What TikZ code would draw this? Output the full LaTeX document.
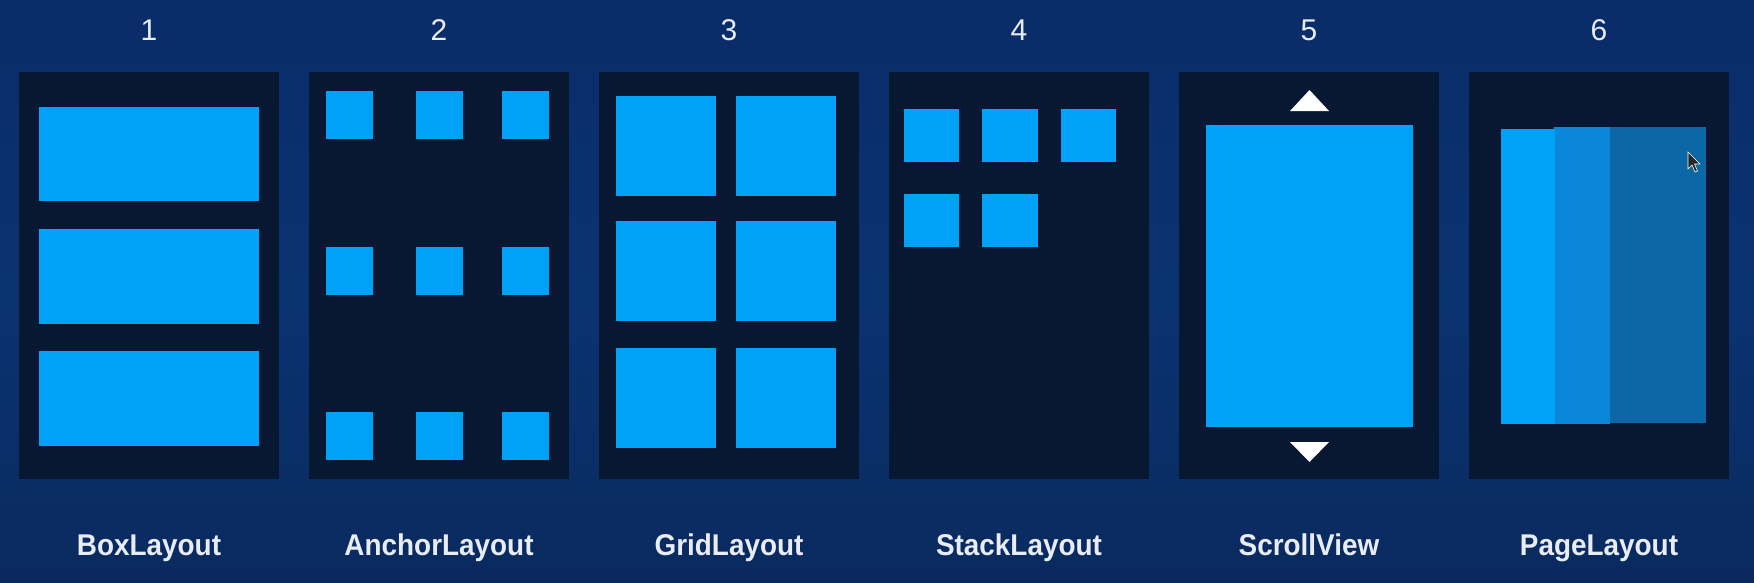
\documentclass[tikz,border=0pt]{standalone}
\usepackage{fontspec}
\setmainfont{Liberation Sans}
\definecolor{bgtop}{HTML}{0A2C68}
\definecolor{bgmid}{HTML}{0A3372}
\definecolor{bgbot}{HTML}{0A2A5E}
\definecolor{panelc}{HTML}{081833}
\definecolor{tilec}{HTML}{00A2F8}
\definecolor{tilemid}{HTML}{0A87D9}
\definecolor{tiledark}{HTML}{0B67A6}
\definecolor{txtc}{HTML}{E8ECF4}
\tikzset{
  panel/.style={fill=panelc},
  tile/.style={fill=tilec},
  arrowtri/.style={fill=white},
  num/.style={text=txtc, anchor=base, inner sep=0pt, font=\fontsize{30}{36}\selectfont},
  lbl/.style={text=txtc, anchor=base, inner sep=0pt, font=\fontsize{30}{36}\selectfont\bfseries},
}
\newcommand{\lbltext}[1]{\scalebox{0.93}[1]{#1}}
\begin{document}
\begin{tikzpicture}[x=1pt,y=-1pt]
\useasboundingbox (0,0) rectangle (1754,582);
% background
\shade[top color=bgtop, bottom color=bgbot, middle color=bgmid] (0,0) rectangle (1754,582);
% panels
\foreach \px in {19,309,599,889,1179,1469}{
  \fill[panel] (\px,72) rectangle ++(260,407);
}
% numbers
\node[num] (n1) at (149,40) {1};
\node[num] (n2) at (439,40) {2};
\node[num] (n3) at (729,40) {3};
\node[num] (n4) at (1019,40) {4};
\node[num] (n5) at (1309,40) {5};
\node[num] (n6) at (1599,40) {6};
% labels
\node[lbl] (l1) at (149,555) {\lbltext{BoxLayout}};
\node[lbl] (l2) at (439,555) {\lbltext{AnchorLayout}};
\node[lbl] (l3) at (729,555) {\lbltext{GridLayout}};
\node[lbl] (l4) at (1019,555) {\lbltext{StackLayout}};
\node[lbl] (l5) at (1309,555) {\lbltext{ScrollView}};
\node[lbl] (l6) at (1599,555) {\lbltext{PageLayout}};
% 1 BoxLayout
\fill[tile] (39,107) rectangle (259,201);
\fill[tile] (39,229) rectangle (259,324);
\fill[tile] (39,351) rectangle (259,446);
% 2 AnchorLayout
\foreach \cx in {326,416,502}{
  \foreach \cy in {91,247,412}{
    \fill[tile] (\cx,\cy) rectangle ++(47,48);
  }
}
% 3 GridLayout
\foreach \cx in {616,736}{
  \foreach \cy in {96,221,348}{
    \fill[tile] (\cx,\cy) rectangle ++(100,99.5);
  }
}
% 4 StackLayout
\fill[tile] (904,109) rectangle ++(55,53);
\fill[tile] (982,109) rectangle ++(56,53);
\fill[tile] (1061,109) rectangle ++(55,53);
\fill[tile] (904,194) rectangle ++(55,53);
\fill[tile] (982,194) rectangle ++(56,53);
% 5 ScrollView
\fill[tile] (1206,125) rectangle (1413,427);
\fill[arrowtri] (1290,111) -- (1329,111) -- (1309.5,90) -- cycle;
\fill[arrowtri] (1290,442) -- (1329,442) -- (1309.5,462) -- cycle;
% 6 PageLayout
\fill[tiledark] (1609,127) rectangle (1705.5,423);
\fill[tilemid] (1554,127) rectangle (1609.5,424);
\fill[tile] (1501,129) rectangle (1554.5,424);
% cursor
\filldraw[fill=black!85, draw=white!70, line width=0.6pt]
  (1688,152) -- (1688,169) -- (1692,165) -- (1695,172) -- (1697.5,171) -- (1694.5,164) -- (1700,164) -- cycle;
\end{tikzpicture}
\end{document}
